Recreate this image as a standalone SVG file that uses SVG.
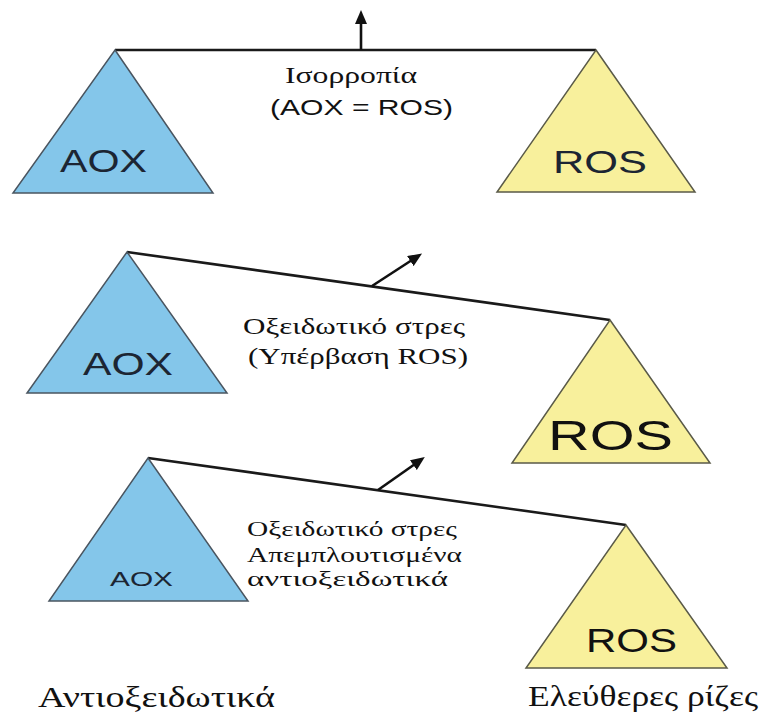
<svg xmlns="http://www.w3.org/2000/svg" width="763" height="717" viewBox="0 0 763 717">
<style>
.aox{fill:#84c6ea;stroke:#4a5560;stroke-width:1.5;stroke-linejoin:miter}
.ros{fill:#f8f09c;stroke:#5a5a48;stroke-width:1.5;stroke-linejoin:miter}
.beam{fill:none;stroke:#1a1a1a;stroke-width:2.6}
.arr{fill:none;stroke:#111;stroke-width:2.6}
.sans{font-family:"Liberation Sans",Arial,sans-serif}
.serif{font-family:"Liberation Serif","Times New Roman",serif;fill:#111}
.lab{fill:#1c2533}
</style>
<defs>
<marker id="ah" viewBox="0 0 14 12" refX="2" refY="6" markerWidth="14" markerHeight="12" markerUnits="userSpaceOnUse" orient="auto">
<path d="M0,0 L14,6 L0,12 Z" fill="#111"/>
</marker>
</defs>
<rect width="763" height="717" fill="#ffffff"/>

<g id="connectors">
<polyline class="beam" points="115,50 596,50"/>
<line class="arr" x1="361" y1="50" x2="361" y2="22" marker-end="url(#ah)"/>
<polyline class="beam" points="127,252 610,320"/>
<line class="arr" x1="372" y1="286" x2="412" y2="260" marker-end="url(#ah)"/>
<polyline class="beam" points="148,458 626,525"/>
<line class="arr" x1="378" y1="490" x2="415" y2="464" marker-end="url(#ah)"/>
</g>

<g id="aox-top">
<polygon class="aox" points="115,50 213,193 13,193"/>
<text class="sans lab" x="60" y="172" font-size="31" textLength="87" lengthAdjust="spacingAndGlyphs">AOX</text>
</g>
<g id="ros-top">
<polygon class="ros" points="596,50 695,192 497,192"/>
<text class="sans lab" x="553" y="173" font-size="32" textLength="94" lengthAdjust="spacingAndGlyphs">ROS</text>
</g>
<g id="label-top">
<text class="serif" x="285" y="83" font-size="23" textLength="132" lengthAdjust="spacingAndGlyphs">Ισορροπία</text>
<text class="sans" x="270" y="115" font-size="22" fill="#111" textLength="183" lengthAdjust="spacingAndGlyphs">(AOX = ROS)</text>
</g>

<g id="aox-mid">
<polygon class="aox" points="127,252 227,393 27,393"/>
<text class="sans lab" x="83" y="375" font-size="31" textLength="90" lengthAdjust="spacingAndGlyphs">AOX</text>
</g>
<g id="ros-mid">
<polygon class="ros" points="610,320 710,463 512,463"/>
<text class="sans" fill="#111" x="548" y="450" font-size="42" textLength="125" lengthAdjust="spacingAndGlyphs">ROS</text>
</g>
<g id="label-mid">
<text class="serif" x="243" y="334" font-size="23" textLength="222" lengthAdjust="spacingAndGlyphs">Οξειδωτικό στρες</text>
<text class="serif" x="248" y="364" font-size="23" textLength="220" lengthAdjust="spacingAndGlyphs">(Υπέρβαση ROS)</text>
</g>

<g id="aox-bot">
<polygon class="aox" points="148,458 248,601 49,601"/>
<text class="sans lab" x="110" y="586" font-size="21" textLength="63" lengthAdjust="spacingAndGlyphs">AOX</text>
</g>
<g id="ros-bot">
<polygon class="ros" points="626,525 727,668 526,668"/>
<text class="sans" fill="#111" x="586" y="652" font-size="33" textLength="91" lengthAdjust="spacingAndGlyphs">ROS</text>
</g>
<g id="label-bot">
<text class="serif" x="247" y="536" font-size="22" textLength="210" lengthAdjust="spacingAndGlyphs">Οξειδωτικό στρες</text>
<text class="serif" x="247" y="562" font-size="22" textLength="215" lengthAdjust="spacingAndGlyphs">Απεμπλουτισμένα</text>
<text class="serif" x="247" y="586" font-size="22" textLength="201" lengthAdjust="spacingAndGlyphs">αντιοξειδωτικά</text>
</g>

<g id="footer">
<text class="serif" x="38" y="707" font-size="30" textLength="237" lengthAdjust="spacingAndGlyphs">Αντιοξειδωτικά</text>
<text class="serif" x="528" y="706" font-size="30" textLength="230" lengthAdjust="spacingAndGlyphs">Ελεύθερες ρίζες</text>
</g>
</svg>
